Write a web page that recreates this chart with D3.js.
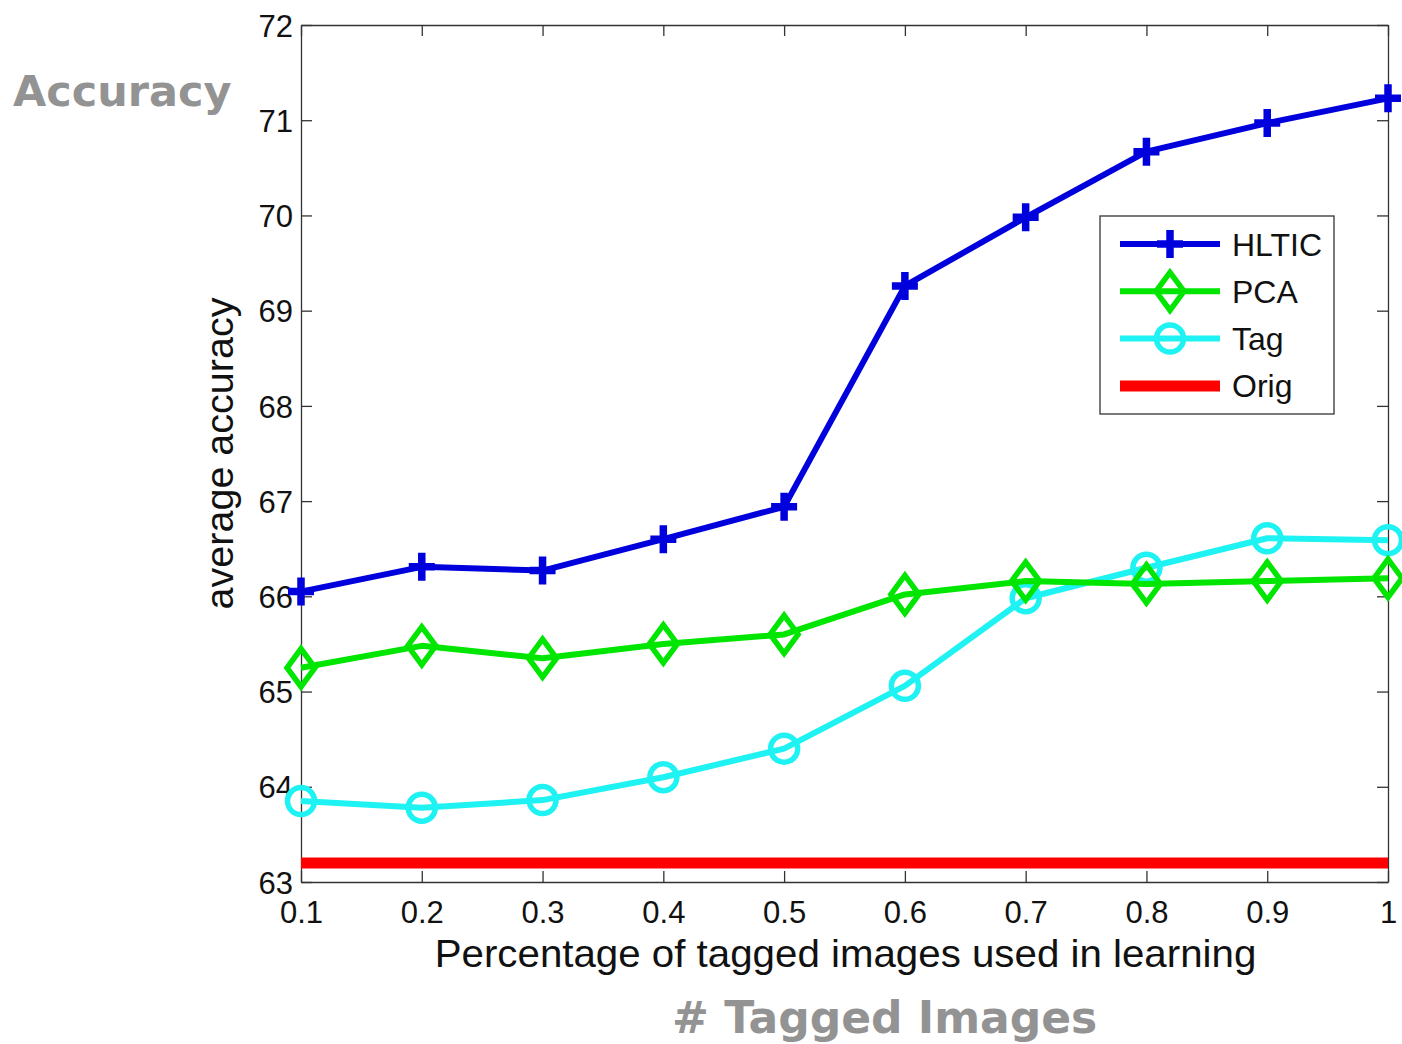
<!DOCTYPE html>
<html>
<head>
<meta charset="utf-8">
<script src="https://cdn.jsdelivr.net/npm/d3@7"></script>
<style>
  html, body { margin: 0; padding: 0; background: #fff; }
  svg { display: block; }
</style>
</head>
<body>
<svg id="chart" width="1402" height="1044"></svg>
<script>
// Fraction of tagged images used in learning
const fractions = [0.1, 0.2, 0.3, 0.4, 0.5, 0.6, 0.7, 0.8, 0.9, 1.0];
const xTickLabels = ["0.1", "0.2", "0.3", "0.4", "0.5", "0.6", "0.7", "0.8", "0.9", "1"];
const yTicks = [63, 64, 65, 66, 67, 68, 69, 70, 71, 72];

// Average accuracy per method
const hltic = [66.05, 66.31, 66.27, 66.60, 66.94, 69.26, 69.98, 70.67, 70.97, 71.23];
const pca   = [65.25, 65.48, 65.35, 65.50, 65.60, 66.02, 66.16, 66.13, 66.16, 66.19];
const tag   = [63.85, 63.78, 63.86, 64.10, 64.40, 65.06, 65.98, 66.30, 66.61, 66.59];
const orig  = 63.20;

const seriesNames = ["HLTIC", "PCA", "Tag", "Orig"];
const seriesColors = ["#0000dd", "#00e600", "#1ef2f2", "#ff0000"];
const seriesMarkers = ["plus", "diamond", "circle", "none"];

const svg = d3.select("#chart");
const W = 1402, H = 1044;
const margin = { left: 301, top: 25, right: W - 1388, bottom: H - 882 };
const x = d3.scaleLinear().domain([0.1, 1]).range([margin.left, W - margin.right]);
const y = d3.scaleLinear().domain([63, 72]).range([H - margin.bottom, margin.top]);

const axisFont = "'Liberation Sans', Arial, sans-serif";
const tickLen = 11;

// Frame with inward ticks on all four sides
const axisColor = "#333";
const g = svg.append("g");

const axBottom = g.append("g").attr("transform", `translate(0,${y(63)})`)
  .call(d3.axisBottom(x).tickValues(fractions).tickFormat((d, i) => xTickLabels[i]).tickSizeInner(-tickLen).tickSizeOuter(0).tickPadding(24));
const axTop = g.append("g").attr("transform", `translate(0,${y(72)})`)
  .call(d3.axisTop(x).tickValues(fractions).tickFormat("").tickSizeInner(-tickLen).tickSizeOuter(0));
const axLeft = g.append("g").attr("transform", `translate(${x(0.1)},0)`)
  .call(d3.axisLeft(y).tickValues(yTicks).tickFormat(d3.format("d")).tickSizeInner(-tickLen).tickSizeOuter(0).tickPadding(8));
const axRight = g.append("g").attr("transform", `translate(${x(1)},0)`)
  .call(d3.axisRight(y).tickValues(yTicks).tickFormat("").tickSizeInner(-tickLen).tickSizeOuter(0));

[axBottom, axTop, axLeft, axRight].forEach(a => {
  a.selectAll(".domain").attr("stroke", axisColor).attr("stroke-width", 1.3);
  a.selectAll(".tick line").attr("stroke", axisColor).attr("stroke-width", 1.3);
  a.selectAll("text").attr("font-family", axisFont).attr("font-size", 31).attr("fill", "#111");
});
axLeft.selectAll(".tick text").attr("dy", "0.36em");
axBottom.selectAll(".tick text").attr("dy", "0.55em");

// Data series
const line = d3.line().x((d, i) => x(fractions[i])).y(d => y(d));
const plotData = [hltic, pca, tag];

// Orig baseline
g.append("line")
  .attr("x1", x(0.1)).attr("x2", x(1))
  .attr("y1", y(orig)).attr("y2", y(orig))
  .attr("stroke", seriesColors[3]).attr("stroke-width", 11);

function drawMarker(sel, type, color, cx, cy) {
  if (type === "plus") {
    sel.append("path")
      .attr("d", `M${cx - 13},${cy}H${cx + 13}M${cx},${cy - 14}V${cy + 14}`)
      .attr("stroke", color).attr("stroke-width", 7.5).attr("fill", "none");
  } else if (type === "diamond") {
    sel.append("path")
      .attr("d", `M${cx},${cy - 19}L${cx + 14},${cy}L${cx},${cy + 19}L${cx - 14},${cy}Z`)
      .attr("stroke", color).attr("stroke-width", 5.5).attr("fill", "none");
  } else if (type === "circle") {
    sel.append("circle").attr("cx", cx).attr("cy", cy).attr("r", 13.5)
      .attr("stroke", color).attr("stroke-width", 5.5).attr("fill", "none");
  }
}

[2, 1, 0].forEach(k => {
  const data = plotData[k];
  const sg = g.append("g");
  sg.append("path").datum(data).attr("d", line)
    .attr("fill", "none").attr("stroke", seriesColors[k]).attr("stroke-width", 6)
    .attr("stroke-linejoin", "round");
  data.forEach((v, i) => drawMarker(sg, seriesMarkers[k], seriesColors[k], x(fractions[i]), y(v)));
});

// Legend
const lg = g.append("g");
lg.append("rect").attr("x", 1100).attr("y", 216).attr("width", 234).attr("height", 198)
  .attr("fill", "#fff").attr("stroke", axisColor).attr("stroke-width", 1.3);
seriesNames.forEach((name, i) => {
  const ly = 244 + i * 47.3;
  lg.append("line").attr("x1", 1120).attr("x2", 1220).attr("y1", ly).attr("y2", ly)
    .attr("stroke", seriesColors[i]).attr("stroke-width", i === 3 ? 11 : 6);
  drawMarker(lg, seriesMarkers[i], seriesColors[i], 1170, ly);
  lg.append("text").attr("x", 1232).attr("y", ly).attr("dy", "0.36em")
    .attr("font-family", axisFont).attr("font-size", 32).attr("fill", "#111").text(name);
});

// Axis titles
g.append("text").attr("x", (x(0.1) + x(1)) / 2 + 1).attr("y", 967)
  .attr("text-anchor", "middle").attr("font-family", axisFont).attr("font-size", 39.5).attr("fill", "#111")
  .attr("transform", `translate(${(x(0.1) + x(1)) / 2 + 1},0) scale(1.02,1) translate(${-((x(0.1) + x(1)) / 2 + 1)},0)`)
  .text("Percentage of tagged images used in learning");
g.append("text").attr("transform", `translate(233,${(y(63) + y(72)) / 2}) rotate(-90)`)
  .attr("text-anchor", "middle").attr("font-family", axisFont).attr("font-size", 39.5).attr("fill", "#111")
  .text("average accuracy");

// Slide-style grey captions
g.append("text").attr("x", 13).attr("y", 106)
  .attr("font-family", "'DejaVu Sans', Verdana, sans-serif").attr("font-weight", "bold")
  .attr("font-size", 43).attr("fill", "#939393").text("Accuracy");
g.append("text").attr("x", 672).attr("y", 1033)
  .attr("font-family", "'DejaVu Sans', Verdana, sans-serif").attr("font-weight", "bold")
  .attr("font-size", 44).attr("fill", "#939393").text("# Tagged Images");
</script>
</body>
</html>
